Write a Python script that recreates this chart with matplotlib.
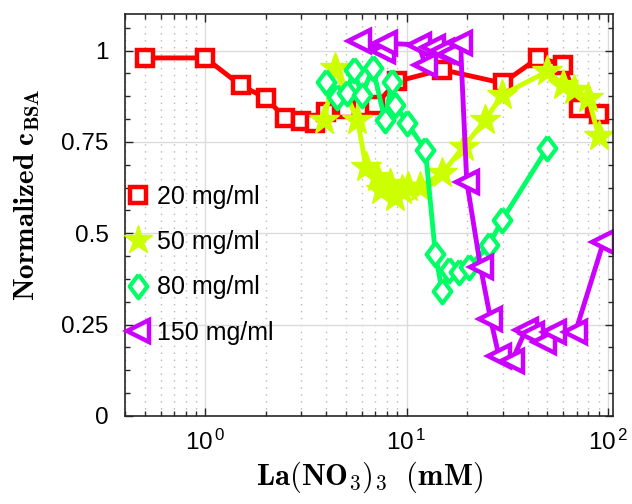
import matplotlib
matplotlib.use("Agg")
import matplotlib.pyplot as plt
from matplotlib.lines import Line2D
from matplotlib.ticker import FixedLocator, LogLocator, NullFormatter, FuncFormatter
import numpy as np

plt.rcParams['mathtext.fontset'] = 'cm'
plt.rcParams['font.family'] = ['Liberation Sans', 'DejaVu Sans']

# ---- data ----
x20 = [0.5, 1.0, 1.5, 2.0, 2.5, 3.0, 3.5, 4.0, 5.0, 6.0, 7.0, 9.0, 15, 30, 45, 60, 72, 90]
y20 = [0.98, 0.98, 0.905, 0.87, 0.815, 0.808, 0.803, 0.833, 0.84, 0.845, 0.852, 0.916,
       0.948, 0.911, 0.98, 0.962, 0.843, 0.826]

x50 = [3.9, 4.4, 5.7, 6.3, 7.1, 7.5, 8.3, 8.8, 9.5, 10.2, 11.7, 15, 19.2, 24.6, 29.8,
       50, 60, 67.5, 80, 90]
y50 = [0.81, 0.952, 0.81, 0.68, 0.655, 0.618, 0.635, 0.60, 0.618, 0.627, 0.627, 0.664,
       0.737, 0.81, 0.879, 0.943, 0.906, 0.893, 0.87, 0.765]

x80 = [4.0, 4.5, 5.06, 5.45, 6.0, 6.8, 7.8, 8.45, 8.8, 10.0, 12.4, 13.9, 15.0, 16.2,
       18.2, 20.4, 25.6, 29.8, 50]
y80 = [0.915, 0.873, 0.884, 0.948, 0.879, 0.952, 0.81, 0.913, 0.852, 0.803, 0.728,
       0.442, 0.343, 0.40, 0.394, 0.407, 0.467, 0.536, 0.733]

x150 = [5.77, 7.6, 7.8, 11.5, 12.4, 13.5, 15.0, 16.5, 18.5, 19.9, 23.3, 26.1, 28.7,
        33.4, 39, 42, 48, 54, 69, 95]
y150 = [1.026, 1.0, 1.02, 1.016, 0.96, 1.01, 1.0, 0.99, 1.021, 0.641, 0.407, 0.266,
        0.165, 0.151, 0.234, 0.225, 0.201, 0.229, 0.23, 0.476]

labels = ['20 mg/ml', '50 mg/ml', '80 mg/ml', '150 mg/ml']
colors = ['#FF0000', '#CCFF00', '#00FF66', '#CC00FF']

yticks = [0, 0.25, 0.5, 0.75, 1]
yticklabels = ['0', '0.25', '0.5', '0.75', '1']

diamond = [(0, 1), (0.75, 0), (0, -1), (-0.75, 0), (0, 1)]

fig = plt.figure(figsize=(6.32, 5.04), dpi=100)
ax = fig.add_axes([0.198, 0.175, 0.772, 0.797])

styles = [
    dict(marker='s', ms=11, mfc='white', mew=3.2),
    dict(marker='*', ms=23, mew=1.0),
    dict(marker=diamond, ms=17, mfc='white', mew=3.0),
    dict(marker='<', ms=16, mfc='white', mew=3.2),
]
series = [(x20, y20), (x50, y50), (x80, y80), (x150, y150)]
for (xs, ys), c, st in zip(series, colors, styles):
    kw = dict(st)
    if 'mfc' not in kw:
        kw['mfc'] = c
    ax.plot(xs, ys, color=c, lw=3.5, mec=c, **kw)

ax.set_xscale('log')
ax.set_xlim(0.4, 106)
ax.set_ylim(0, 1.1)
ax.set_yticks(yticks)
ax.set_yticklabels(yticklabels)
ax.yaxis.set_minor_locator(FixedLocator(np.arange(0, 1.1, 0.0625)))
ax.xaxis.set_major_locator(FixedLocator([1, 10, 100]))
ax.xaxis.set_major_formatter(FuncFormatter(
    lambda v, p: r'$\mathregular{10^{\,%d}}$' % int(round(np.log10(v)))))
ax.xaxis.set_minor_locator(LogLocator(base=10, subs=np.arange(2, 10)))
ax.xaxis.set_minor_formatter(NullFormatter())

ax.grid(True, which='major', color='#dcdcdc', lw=1.0, ls='-')
ax.grid(True, which='minor', axis='x', color='#b8b8b8', lw=1.0, ls=(0, (1, 4)))
ax.set_axisbelow(True)

ax.tick_params(which='both', direction='in', top=True, right=True, labelsize=17.5,
               color='#262626', width=1.0)
ax.tick_params(which='major', length=6)
ax.tick_params(which='minor', length=3.5)
ax.tick_params(axis='x', pad=10)
ax.tick_params(axis='y', pad=12)
for s in ax.spines.values():
    s.set_linewidth(1.2)
    s.set_color('#262626')

ax.set_xlabel(r'$\mathbf{La(NO_3)_3\ \ (mM)}$', fontsize=22, labelpad=3)
ax.set_ylabel(r'$\mathbf{Normalized\ c_{BSA}}$', fontsize=21)
ax.yaxis.set_label_coords(-0.17, 0.55)

handles = []
for c, st in zip(colors, styles):
    kw = dict(st)
    if 'mfc' not in kw:
        kw['mfc'] = c
    if kw['marker'] == '*':
        kw['ms'] = 21
    handles.append(Line2D([], [], color=c, ls='none', mec=c, **kw))
leg = ax.legend(handles, labels, loc='upper left', bbox_to_anchor=(-0.025, 0.6),
                frameon=False, fontsize=18, handlelength=1.2, handletextpad=0.15,
                labelspacing=0.85, borderaxespad=0.0)

fig.savefig('out.png', dpi=100)
